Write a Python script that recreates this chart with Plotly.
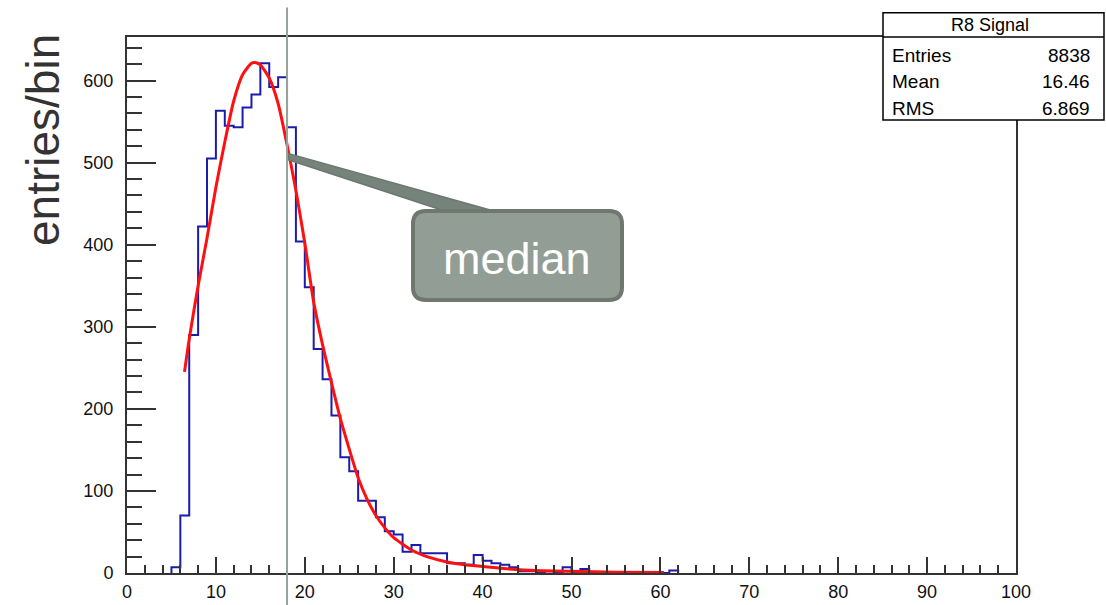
import plotly.graph_objects as go

# ---------------- data ----------------
BIN_EDGES = list(range(0, 101))          # 100 bins of width 1 from 0 to 100
COUNTS = [
    0, 0, 0, 0, 0, 7, 70, 290, 422, 505,          # 0-9
    563, 545, 543, 567, 583, 621, 592, 604, 543, 404,   # 10-19
    348, 273, 236, 192, 141, 124, 88, 88, 68, 51,      # 20-29
    47, 26, 34, 24, 24, 24, 12, 12, 10, 22,            # 30-39
    15, 12, 10, 7, 2, 2, 1, 2, 1, 7,                   # 40-49
    1, 5, 0, 0, 0, 0, 0, 0, 0, 0,                      # 50-59
    0, 3, 0, 0, 0, 0, 0, 0, 0, 0,                      # 60-69
    0, 0, 0, 0, 0, 0, 0, 0, 0, 0,                      # 70-79
    0, 0, 0, 0, 0, 0, 0, 0, 0, 0,                      # 80-89
    0, 0, 0, 0, 0, 0, 0, 0, 0, 0,                      # 90-99
]
assert len(COUNTS) == 100

FIT_X = [6.47, 7, 8, 9, 10, 11, 12, 13, 14, 14.4, 15, 16, 17, 18, 19, 20, 21, 22, 23,
         24, 25, 26, 27, 28, 29, 30, 32, 34, 36, 38, 40, 43, 46, 50, 55, 60.4]
FIT_Y = [245, 285, 350, 408, 470, 525, 575, 607, 621, 622, 619, 603, 572, 522, 466, 402, 330, 278, 232,
         188, 151, 116, 90, 70, 55, 43, 28, 19, 13.5, 10, 8, 5, 3, 2, 1, 0.5]

MEDIAN_X = 18.0
MEDIAN_TIP_Y = 507
MEDIAN_LABEL = "median"

STATS_TITLE = "R8 Signal"
STATS_NAMES = ["Entries", "Mean", "RMS"]
STATS_VALUES = ["8838", "16.46", "6.869"]

X_RANGE = [0, 100]
Y_RANGE = [0, 653]
Y_TITLE = "entries/bin"

FONT = "Arial, Liberation Sans, sans-serif"

# ---------------- figure ----------------
fig = go.Figure()

# histogram outline over the populated bins (empty bins lie on the axis line)
nz = [i for i, c in enumerate(COUNTS) if c > 0]
first, last = nz[0], nz[-1]
hx = [BIN_EDGES[first]] + BIN_EDGES[first:last + 2] + [BIN_EDGES[last + 1]]
hy = [0] + COUNTS[first:last + 1] + [COUNTS[last]] + [0]
fig.add_trace(go.Scatter(
    x=hx, y=hy, mode="lines",
    line=dict(shape="hv", color="#1c1caa", width=2), hoverinfo="skip"))

fig.add_trace(go.Scatter(
    x=FIT_X, y=FIT_Y, mode="lines",
    line=dict(shape="spline", smoothing=0.6, color="#ff1010", width=3), hoverinfo="skip"))


def px_(x):
    return (x - X_RANGE[0]) / (X_RANGE[1] - X_RANGE[0])


def py_(y):
    return (y - Y_RANGE[0]) / (Y_RANGE[1] - Y_RANGE[0])


# median vertical line (extends beyond the frame)
mx = px_(MEDIAN_X)
fig.add_shape(type="line", xref="paper", yref="paper", x0=mx, x1=mx, y0=-0.07, y1=1.055,
              line=dict(color="#95a499", width=2), layer="above")

# callout pointer
tipx, tipy = px_(MEDIAN_X) + 0.002, py_(MEDIAN_TIP_Y)
b1x, b1y = 0.3633, 0.672
b2x, b2y = 0.4196, 0.672
fig.add_shape(type="path", xref="paper", yref="paper",
              path=f"M {tipx:.4f} {tipy + 0.006:.4f} L {b2x:.4f} {b2y:.4f} L {b1x:.4f} {b1y:.4f} L {tipx:.4f} {tipy - 0.006:.4f} Z",
              fillcolor="#76837a", line=dict(color="#6b776f", width=1.5), layer="above")

# callout rounded box
bx0, bx1 = (413 - 127) / 889, (622 - 127) / 889
by0, by1 = (573 - 300) / 536, (573 - 211) / 536
rx, ry = 13 / 889, 13 / 536
rr = (f"M {bx0 + rx:.4f} {by1:.4f} L {bx1 - rx:.4f} {by1:.4f} Q {bx1:.4f} {by1:.4f} {bx1:.4f} {by1 - ry:.4f} "
      f"L {bx1:.4f} {by0 + ry:.4f} Q {bx1:.4f} {by0:.4f} {bx1 - rx:.4f} {by0:.4f} "
      f"L {bx0 + rx:.4f} {by0:.4f} Q {bx0:.4f} {by0:.4f} {bx0:.4f} {by0 + ry:.4f} "
      f"L {bx0:.4f} {by1 - ry:.4f} Q {bx0:.4f} {by1:.4f} {bx0 + rx:.4f} {by1:.4f} Z")
fig.add_shape(type="path", xref="paper", yref="paper", path=rr,
              fillcolor="#929e95", line=dict(color="#6e786f", width=4), layer="above")
fig.add_annotation(xref="paper", yref="paper", x=(517 - 127) / 889, y=(573 - 258) / 536,
                   text=MEDIAN_LABEL, showarrow=False,
                   font=dict(family=FONT, size=45, color="white"))

# stats box
sx0, sx1 = (883 - 127) / 889, (1104 - 127) / 889
sy0, sy1 = (573 - 120) / 536, (573 - 12.7) / 536
fig.add_shape(type="rect", xref="paper", yref="paper", x0=sx0, x1=sx1, y0=sy0, y1=sy1,
              fillcolor="white", line=dict(color="black", width=1.5), layer="above")
fig.add_shape(type="line", xref="paper", yref="paper", x0=sx0, x1=sx1, y0=1.0, y1=1.0,
              line=dict(color="black", width=1.5), layer="above")
fig.add_annotation(xref="paper", yref="paper", x=(990 - 127) / 889, y=(573 - 25) / 536,
                   text=STATS_TITLE, showarrow=False, xanchor="center", yanchor="middle",
                   font=dict(family=FONT, size=18, color="black"))
row_py = [55, 81, 108]
for name, val, rpy in zip(STATS_NAMES, STATS_VALUES, row_py):
    fig.add_annotation(xref="paper", yref="paper", x=(890 - 127) / 889, y=(573 - rpy) / 536,
                       text=name, showarrow=False, xanchor="left", yanchor="middle",
                       font=dict(family=FONT, size=19, color="black"))
    fig.add_annotation(xref="paper", yref="paper", x=(1092 - 127) / 889, y=(573 - rpy) / 536,
                       text=val, showarrow=False, xanchor="right", yanchor="middle",
                       font=dict(family=FONT, size=19, color="black"))

# y title
fig.add_annotation(xref="paper", yref="paper", x=(43 - 127) / 889, y=(573 - 140) / 536,
                   text=Y_TITLE, textangle=-90, showarrow=False, xanchor="center", yanchor="middle",
                   font=dict(family=FONT, size=46, color="#333333"))

axis_common = dict(showgrid=False, zeroline=False, showline=True, linecolor="#333333", linewidth=2,
                   mirror=True, ticks="inside", tickwidth=2, tickcolor="#333333", automargin=False,
                   tickfont=dict(family=FONT, size=18, color="#111111"))

fig.update_layout(
    width=1106, height=605,
    margin=dict(l=127, r=90, t=37, b=32),
    plot_bgcolor="white", paper_bgcolor="white",
    showlegend=False,
    xaxis=dict(range=X_RANGE, tick0=0, dtick=10, ticklen=16,
               minor=dict(ticks="inside", dtick=2, ticklen=8, tickwidth=2, tickcolor="#333333"),
               ticklabelstandoff=1, **axis_common),
    yaxis=dict(range=Y_RANGE, tick0=0, dtick=100, ticklen=29,
               minor=dict(ticks="inside", dtick=20, ticklen=15, tickwidth=2, tickcolor="#333333"),
               ticklabelstandoff=8, **axis_common),
)

fig.write_html("out.html")
